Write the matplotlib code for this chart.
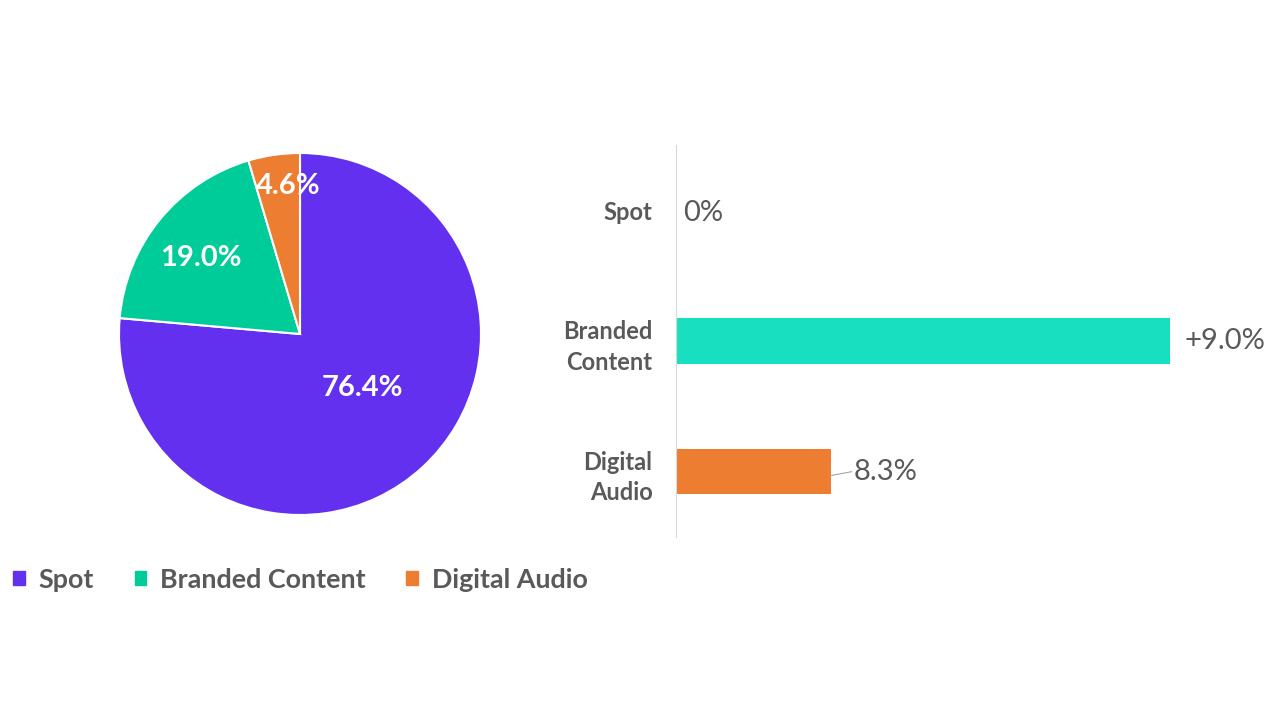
import matplotlib
matplotlib.use("Agg")
import matplotlib.pyplot as plt
import numpy as np
from matplotlib.patches import Patch

plt.rcParams['font.family'] = ['Lato', 'DejaVu Sans']

# Data
pie_categories = ["Spot", "Branded Content", "Digital Audio"]
pie_shares = [76.4, 19.0, 4.6]
pie_colors = ["#6230EE", "#00CC99", "#ED7D31"]

bar_categories = ["Spot", "Branded\nContent", "Digital\nAudio"]
bar_lengths = [0.0, 9.0, 2.82]
bar_labels = ["0%", "+9.0%", "8.3%"]
bar_colors = ["#6230EE", "#17DFBF", "#ED7D31"]

TXT = "#595959"

fig = plt.figure(figsize=(12.8, 7.2), dpi=100)
W, H = 1280, 720

# Pie axes: center (300,334), radius 181
r = 181
axp = fig.add_axes([(300 - r) / W, 1 - (334 + r) / H, 2 * r / W, 2 * r / H])
wedges, _ = axp.pie(pie_shares, colors=pie_colors, startangle=90, counterclock=False,
                    wedgeprops=dict(edgecolor="white", linewidth=1.5), radius=1.0)
axp.set_xlim(-1, 1); axp.set_ylim(-1, 1)
axp.set_aspect('equal')
label_pos = [(0.343, -0.298), (-0.547, 0.420), (-0.066, 0.818)]
for v, (lx, ly) in zip(pie_shares, label_pos):
    axp.text(lx, ly, f"{v:.1f}%", ha="center", va="center",
             color="white", fontsize=21, fontweight="bold")

# Legend
handles = [Patch(facecolor=c, edgecolor=c) for c in pie_colors]
fig.legend(handles, pie_categories, loc="center left", bbox_to_anchor=(-11 / W, 1 - 580 / H),
           ncol=3, frameon=False, handlelength=0.43, handleheight=0.43,
           handletextpad=0.52, columnspacing=1.5, labelcolor=TXT,
           prop=dict(weight="bold", size=19.4))

# Bar axes: x from 676 to 1170 -> 0..9 ; y from 145 to 537
axb = fig.add_axes([676 / W, 1 - 537 / H, (1170 - 676) / W, (537 - 145) / H])
y = np.arange(len(bar_categories))
axb.barh(y, bar_lengths, height=0.345, color=bar_colors)
axb.set_ylim(2.5, -0.5)
axb.set_xlim(0, 9.0)
for s in ["top", "right", "bottom"]:
    axb.spines[s].set_visible(False)
axb.spines["left"].set_color("#D9D9D9")
axb.set_xticks([])
axb.set_yticks(y)
axb.set_yticklabels(bar_categories, fontsize=17, fontweight="bold", color=TXT,
                    linespacing=1.4)
axb.tick_params(axis="y", length=0, pad=17)

# Value labels
axb.text(bar_lengths[0] + 0.13, y[0] + 0.02, bar_labels[0], ha="left", va="center",
         fontsize=21, color=TXT, clip_on=False)
axb.text(bar_lengths[1] + 0.27, y[1], bar_labels[1], ha="left", va="center",
         fontsize=21, color=TXT, clip_on=False)
axb.plot([bar_lengths[2], bar_lengths[2] + 0.38], [y[2] + 0.03, y[2] + 0.0],
         color="#A6A6A6", lw=0.8, clip_on=False)
axb.text(bar_lengths[2] + 0.42, y[2], bar_labels[2], ha="left", va="center",
         fontsize=21, color=TXT, clip_on=False)

fig.savefig("out.png", dpi=100, facecolor="white")
